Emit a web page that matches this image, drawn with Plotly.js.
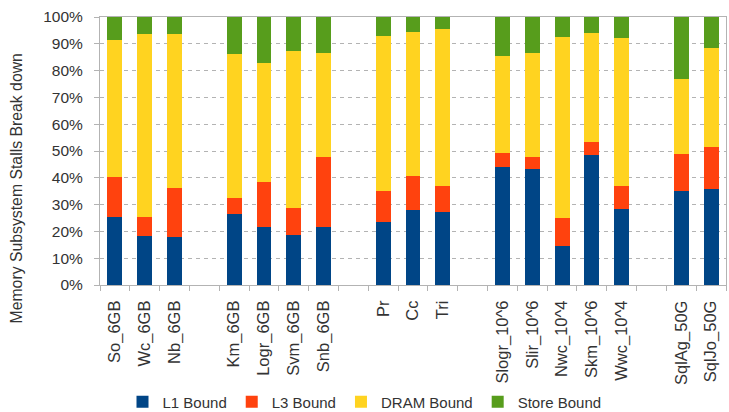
<!DOCTYPE html>
<html>
<head>
<meta charset="utf-8">
<script src="https://cdn.plot.ly/plotly-3.0.1.min.js"></script>
<style>html,body{margin:0;padding:0;background:#fff;}#chart{width:729px;height:412px;}</style>
</head>
<body>
<div id="chart"></div>
<script>
const categories = ["So_6GB","Wc_6GB","Nb_6GB"," ","Km_6GB","Logr_6GB","Svm_6GB","Snb_6GB","  ","Pr","Cc","Tri","   ","Slogr_10^6","Slir_10^6","Nwc_10^4","Skm_10^6","Wwc_10^4","    ","SqlAg_50G","SqlJo_50G"];
const l1Bound    = [25.5,18.3,18.0,null,26.5,21.5,18.8,21.6,null,23.5,28.0,27.4,null,44.2,43.3,14.6,48.4,28.2,null,35.2,35.7];
const l3Bound    = [14.9, 7.2,18.1,null, 5.8,17.1, 9.9,26.3,null,11.7,12.5, 9.7,null, 4.9, 4.6,10.3, 5.1, 8.7,null,13.6,15.9];
const dramBound  = [51.0,68.0,57.4,null,53.8,44.4,58.6,38.8,null,57.7,53.8,58.6,null,36.5,38.7,67.5,40.5,55.4,null,28.1,36.7];
const storeBound = [ 8.6, 6.5, 6.5,null,13.9,17.0,12.7,13.3,null, 7.1, 5.7, 4.3,null,14.4,13.4, 7.6, 6.0, 7.7,null,23.1,11.7];
const yTickVals = [0,10,20,30,40,50,60,70,80,90,100];
const yTickText = ["0%","10%","20%","30%","40%","50%","60%","70%","80%","90%","100%"];
const yTitle = "Memory Subsystem Stalls Break down";

const mk = (name, y, color) => ({type:'bar', name, x:categories, y, marker:{color, line:{width:0}}, hoverinfo:'name+y'});
const data = [
  mk('L1 Bound', l1Bound, '#004586'),
  mk('L3 Bound', l3Bound, '#ff420e'),
  mk('DRAM Bound', dramBound, '#ffd320'),
  mk('Store Bound', storeBound, '#579d1c')
];
const fam = 'Liberation Sans, Arial, sans-serif';
const txt = '#333';
const layout = {
  width:729, height:412,
  margin:{l:100, r:3, t:17, b:127},
  paper_bgcolor:'#fff', plot_bgcolor:'#fff',
  barmode:'stack', bargap:0.5,
  font:{family:fam, size:16, color:txt},
  showlegend:true,
  legend:{orientation:'h', xref:'container', yref:'container', x:0.5, xanchor:'center', y:0.024, yanchor:'middle', font:{family:fam, size:15, color:txt}, itemwidth:30, traceorder:'normal', tracegroupgap:0},
  xaxis:{type:'category', categoryorder:'array', categoryarray:categories, tickson:'boundaries', ticks:'outside', ticklen:5, tickcolor:'#b3b3b3', tickangle:-90, ticklabelstandoff:8, tickfont:{family:fam, size:16.5, color:txt}, showline:true, linecolor:'#b3b3b3', mirror:true, showgrid:false, zeroline:false, fixedrange:true},
  yaxis:{range:[0,100], tickvals:yTickVals, ticktext:yTickText, ticks:'outside', ticklen:5, tickcolor:'#b3b3b3', ticklabelstandoff:8, showline:true, linecolor:'#b3b3b3', mirror:true, showgrid:true, gridcolor:'#b3b3b3', griddash:'4px,4px', gridwidth:1, zeroline:false, tickfont:{family:fam, size:15.5, color:txt}, fixedrange:true},
  annotations:[{text:yTitle, xref:'paper', yref:'paper', x:-0.1326, y:0.36, xanchor:'center', yanchor:'middle', textangle:-90, showarrow:false, font:{family:fam, size:15.8, color:txt}}]
};
Plotly.newPlot('chart', data, layout, {displayModeBar:false, staticPlot:true});
</script>
</body>
</html>
